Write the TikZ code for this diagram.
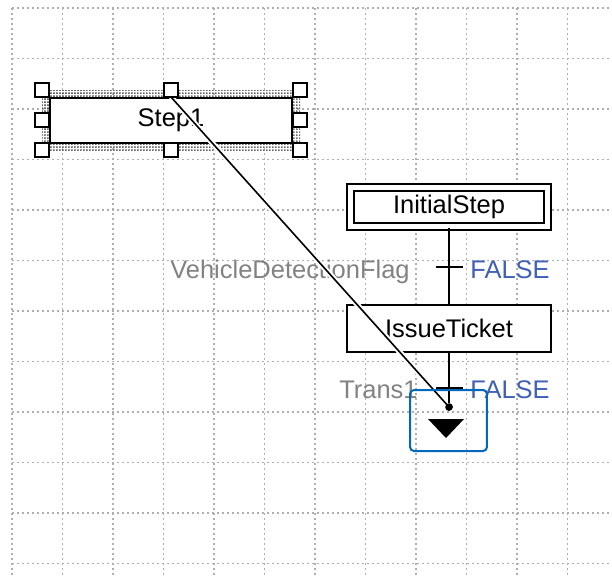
\documentclass[tikz,border=0pt]{standalone}
\usepackage{fontspec}
\setmainfont{Liberation Sans}
\usepackage{tikz}
\usetikzlibrary{patterns.meta}
\usepackage{xcolor}
\definecolor{gridgray}{RGB}{175,175,175}
\definecolor{labelgray}{RGB}{130,130,130}
\definecolor{falseblue}{RGB}{64,96,184}
\definecolor{frameblue}{RGB}{0,105,190}

\begin{document}
\begin{tikzpicture}[
    x=0.02cm, y=-0.02cm,
    font=\fontsize{14.5pt}{17pt}\selectfont,
    gridline/.style={draw=gridgray, line width=0.03cm, dash pattern=on 0.04cm off 0.06cm},
    box/.style={draw, line width=0.04cm, rectangle, fill=white, align=center, inner sep=0pt},
    handle/.style={draw, line width=0.04cm, rectangle, fill=white, minimum size=0.28cm, inner sep=0pt},
    link/.style={line width=0.04cm},
    condtext/.style={text=labelgray, inner sep=0pt},
    valtext/.style={text=falseblue, inner sep=0pt},
  ]
    \useasboundingbox (0,0) rectangle (612,576);
    \fill[white] (0,0) rectangle (612,576);

    % grid
    \foreach \k in {0,...,11} {
      \draw[gridline] ({12+50.5*\k},8) -- ({12+50.5*\k},576);
      \draw[gridline] (12,{8+50.5*\k}) -- (612,{8+50.5*\k});
    }

    % selection
    \fill[pattern={Dots[distance=0.06cm, radius=0.018cm]}, pattern color=black!80]
      (42,90) rectangle (300,150);

    \node[box, minimum width=4.84cm, minimum height=0.9cm]
      (step1) at (171,120.5) {Step1};

    \node[box, double, double distance=0.1cm, minimum width=3.93cm, minimum height=0.78cm]
      (init) at (449,207) {InitialStep};

    \node[box, minimum width=4.08cm, minimum height=0.94cm]
      (issue) at (449,328.5) {IssueTicket};

    \node[condtext, anchor=base east] (cond1) at (410,278) {VehicleDetectionFlag};
    \node[valtext, anchor=base west] (val1) at (470,278) {FALSE};
    \node[condtext, anchor=base east] (cond2) at (418,398) {Trans1};
    \node[valtext, anchor=base west] (val2) at (470,398) {FALSE};

    \coordinate (trans1) at (449,267);
    \coordinate (trans2) at (449,388);
    \node[circle, fill, inner sep=0pt, minimum size=0.15cm] (jumpdot) at (449,407) {};

    \draw[line width=0.032cm, preaction={draw=white, line width=0.11cm}]
      (step1.north) -- (jumpdot.center);

    \draw[link] (init.south) -- (issue.north);
    \draw[link] (issue.south) -- (jumpdot);
    \draw[link] ([xshift=-0.27cm]trans1) -- ([xshift=0.27cm]trans1);
    \draw[link] ([xshift=-0.27cm]trans2) -- ([xshift=0.27cm]trans2);
    \fill (jumpdot) circle[radius=0.075cm];

    \node[draw=frameblue, line width=0.04cm, rounded corners=0.08cm, inner sep=0pt,
          minimum width=1.54cm, minimum height=1.22cm]
      (jumpframe) at (448.5,420.5) {};
    \fill ([shift={(-20.5,-1.5)}]jumpframe.center) -- ++(36,0) -- ++(-18,19) -- cycle;

    \foreach \hx/\hy/\hname in {42/90/nw, 171/90/n, 300/90/ne, 42/120/w,
                                 300/120/e, 42/150/sw, 171/150/s, 300/150/se}
      \node[handle] (h-\hname) at (\hx,\hy) {};
  \end{tikzpicture}
\end{document}
